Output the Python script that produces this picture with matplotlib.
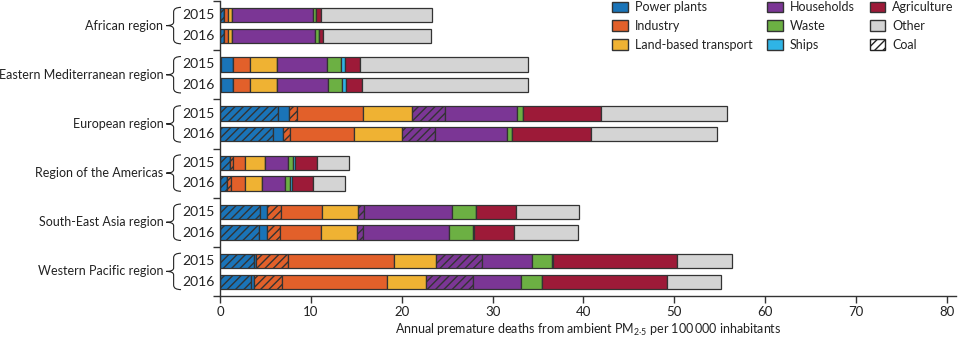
import numpy as np
import matplotlib
matplotlib.use('Agg')
import matplotlib.pyplot as plt
from matplotlib.patches import Patch, PathPatch
from matplotlib.path import Path
from matplotlib import transforms

plt.rcParams['font.family'] = ['Lato', 'DejaVu Sans']
plt.rcParams['font.size'] = 9
plt.rcParams['mathtext.default'] = 'regular'
plt.rcParams['hatch.linewidth'] = 1.0

regions = ['African region', 'Eastern Mediterranean region', 'European region',
           'Region of the Americas', 'South-East Asia region', 'Western Pacific region']
years = ['2015', '2016']

# per region, 2015 then 2016
power_coal   = [0.40, 0.40, 0.10, 0.10, 6.40, 5.80, 1.10, 0.80, 4.40, 4.30, 3.70, 3.45]
power        = [0.00, 0.00, 1.30, 1.30, 1.20, 1.10, 0.00, 0.00, 0.80, 0.85, 0.25, 0.30]
industry_coal = [0.00, 0.00, 0.00, 0.00, 0.90, 0.85, 0.35, 0.45, 1.50, 1.45, 3.50, 3.10]
industry     = [0.45, 0.45, 1.95, 1.95, 7.20, 7.00, 1.35, 1.45, 4.50, 4.50, 11.75, 11.55]
transport    = [0.45, 0.45, 2.90, 2.90, 5.40, 5.30, 2.10, 1.90, 4.00, 4.00, 4.55, 4.30]
house_coal   = [0.00, 0.00, 0.00, 0.00, 3.70, 3.60, 0.00, 0.00, 0.65, 0.65, 5.05, 5.10]
households   = [8.90, 9.20, 5.55, 5.65, 7.90, 7.90, 2.55, 2.50, 9.70, 9.50, 5.50, 5.30]
waste        = [0.35, 0.35, 1.50, 1.50, 0.60, 0.60, 0.55, 0.55, 2.60, 2.60, 2.20, 2.30]
ships        = [0.05, 0.05, 0.50, 0.50, 0.00, 0.00, 0.25, 0.25, 0.05, 0.05, 0.20, 0.00]
agriculture  = [0.50, 0.45, 1.65, 1.70, 8.60, 8.70, 2.40, 2.30, 4.40, 4.45, 13.60, 13.80]
other        = [12.20, 11.90, 18.50, 18.30, 13.90, 13.80, 3.60, 3.55, 6.90, 7.00, 6.00, 5.90]

colors = {
    'Power plants': '#1a74b8',
    'Industry': '#e2602a',
    'Land-based transport': '#efb233',
    'Households': '#7b3695',
    'Waste': '#6cb043',
    'Ships': '#2fb4e6',
    'Agriculture': '#9d1a38',
    'Other': '#d4d4d4',
}

# stacking order, (values, colour key, coal hatch)
segments = [
    (power_coal, 'Power plants', True),
    (power, 'Power plants', False),
    (industry_coal, 'Industry', True),
    (industry, 'Industry', False),
    (transport, 'Land-based transport', False),
    (house_coal, 'Households', True),
    (households, 'Households', False),
    (waste, 'Waste', False),
    (ships, 'Ships', False),
    (agriculture, 'Agriculture', False),
    (other, 'Other', False),
]

edge = '#333333'
txt = '#222222'

fig = plt.figure(figsize=(9.6, 3.39), dpi=100)
ax = fig.add_axes([220 / 960, 1 - 296 / 339, 736 / 960, 295 / 339])

n = len(regions)
ypos = np.array([[i + 0.29, i + 0.71] for i in range(n)]).ravel()
bar_h = 0.29

left = np.zeros(len(ypos))
for vals, key, coal in segments:
    vals = np.array(vals)
    ax.barh(ypos, vals, left=left, height=bar_h, color=colors[key],
            edgecolor=edge, linewidth=0.9, hatch='////' if coal else None)
    left += vals

ax.set_xlim(0, 81)
ax.set_ylim(n, 0)
ax.set_xticks(range(0, 81, 10))
ax.set_yticks(range(n + 1))
ax.set_yticklabels([])
ax.tick_params(axis='both', direction='out', length=5, width=1, color=edge, labelcolor=txt)
ax.tick_params(axis='x', pad=2, labelsize=9.5)
for s in ['top', 'right']:
    ax.spines[s].set_visible(False)
for s in ['left', 'bottom']:
    ax.spines[s].set_color(edge)
    ax.spines[s].set_linewidth(1)

ax.set_xlabel('Annual premature deaths from ambient PM$_{2\u00b75}$ per 100\u2009000 inhabitants',
              color=txt, labelpad=3)

# region names, braces and year labels left of the axis
blend = transforms.blended_transform_factory(ax.transAxes, ax.transData)
x_tip, x_mid, x_end = -0.073, -0.063, -0.053
for i, name in enumerate(regions):
    ax.text(-0.077, i + 0.5, name, transform=blend, ha='right', va='center', color=txt)
    for j, yr in enumerate(years):
        ax.text(-0.051, i + 0.29 + 0.42 * j, yr, transform=blend, ha='left', va='center',
                color=txt, fontsize=10)
    top, bot, mid = i + 0.13, i + 0.87, i + 0.5
    verts = [(x_end, top), (x_mid, top), (x_mid, top + 0.09),
             (x_mid, mid - 0.07),
             (x_mid, mid), (x_tip, mid),
             (x_mid, mid), (x_mid, mid + 0.07),
             (x_mid, bot - 0.09),
             (x_mid, bot), (x_end, bot)]
    codes = [Path.MOVETO, Path.CURVE3, Path.CURVE3, Path.LINETO,
             Path.CURVE3, Path.CURVE3, Path.CURVE3, Path.CURVE3,
             Path.LINETO, Path.CURVE3, Path.CURVE3]
    ax.add_patch(PathPatch(Path(verts, codes), transform=blend, facecolor='none',
                           edgecolor=txt, linewidth=0.8, clip_on=False))

handles = [Patch(facecolor=c, edgecolor=edge, label=k) for k, c in colors.items()]
handles.append(Patch(facecolor='white', edgecolor='#222222', hatch='////', label='Coal'))
fig.legend(handles=handles, ncol=3, loc='upper left', bbox_to_anchor=(611 / 960, 1.0),
           frameon=False, borderpad=0.1, borderaxespad=0, handlelength=1.25, handleheight=0.95,
           handletextpad=0.55, columnspacing=1.2, labelspacing=0.55, labelcolor=txt,
           fontsize=9)

fig.savefig('out.png', dpi=100)
